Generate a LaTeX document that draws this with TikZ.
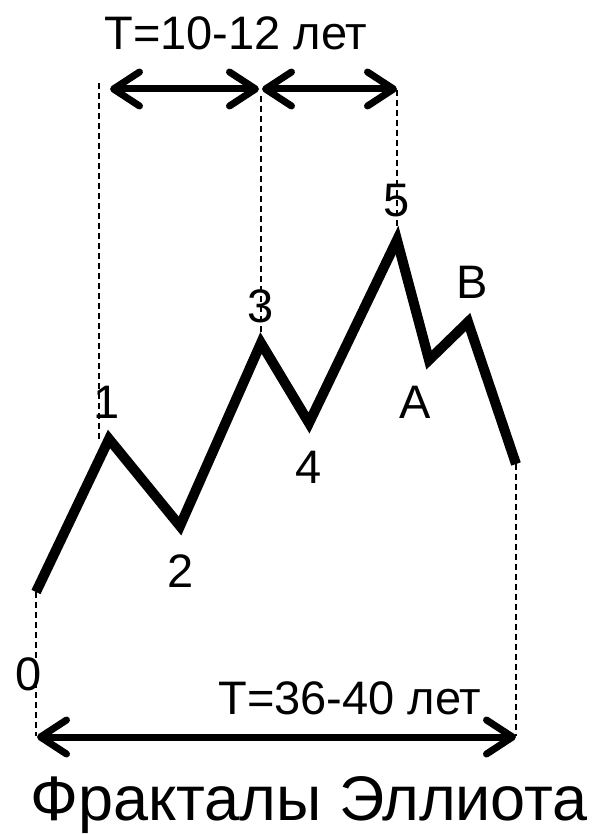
\documentclass[tikz,border=0pt]{standalone}
\usepackage{fontspec}
\setmainfont{Liberation Sans}
\usetikzlibrary{arrows.meta}
\tikzset{
  wave/.style={line width=10pt, line join=miter},
  guide/.style={line width=2.6pt, dash pattern=on 6pt off 4pt},
  span/.style={line width=7pt, {Straight Barb[length=26pt,width=34pt,round]}-{Straight Barb[length=26pt,width=34pt,round]}},
  lbl/.style={anchor=base, inner sep=0pt, font=\fontsize{47}{47}\selectfont},
  ttl/.style={anchor=base, inner sep=0pt, font=\fontsize{63}{63}\selectfont}
}
\begin{document}
\begin{tikzpicture}[x=1pt,y=-1pt]
\useasboundingbox (0,0) rectangle (596,834);
% wave vertices
\coordinate (p0) at (36,592);
\coordinate (p1) at (109,439);
\coordinate (p2) at (180,526);
\coordinate (p3) at (261,343);
\coordinate (p4) at (309,423);
\coordinate (p5) at (397,240);
\coordinate (pa) at (429,360);
\coordinate (pb) at (468,322);
\coordinate (pe) at (516,464);
% guide tops/bottoms
\coordinate (g1t) at (99,83);
\coordinate (g1b) at (99,440);
\coordinate (g3t) at (261,96);
\coordinate (g5t) at (397,90);
\coordinate (g0b) at (36,736);
\coordinate (geb) at (516,736);
% arrow ends
\coordinate (a1l) at (110,89);
\coordinate (a1r) at (259,89);
\coordinate (a2l) at (262,89);
\coordinate (a2r) at (397,89);
\coordinate (bl) at (37,737);
\coordinate (br) at (516,737);
% dashed guides
\draw[guide] (g1t) -- (g1b);
\draw[guide] (g3t) -- (p3);
\draw[guide] (g5t) -- (p5);
\draw[guide] (p0) -- (g0b);
\draw[guide] (pe) -- (geb);
% wave
\draw[wave] (p0) -- (p1) -- (p2) -- (p3) -- (p4) -- (p5) -- (pa) -- (pb) -- (pe);
% spans
\draw[span] (a1l) -- (a1r);
\draw[span] (a2l) -- (a2r);
\draw[span] (bl) -- (br);
% labels
\node[lbl] (l0) at (29,690) {0};
\node[lbl] (l1) at (107,418) {1};
\node[lbl] (l2) at (181,587) {2};
\node[lbl] (l3) at (261,322) {3};
\node[lbl] (l4) at (309,483) {4};
\node[lbl] (l5) at (397,217) {5};
\node[lbl] (lA) at (415,418) {A};
\node[lbl] (lB) at (472,298) {B};
\node[lbl] (t1) at (236,50) {T=10-12 лет};
\node[lbl] (t2) at (350,714) {T=36-40 лет};
\node[ttl] (title) at (309,820) {Фракталы Эллиота};
\end{tikzpicture}
\end{document}
